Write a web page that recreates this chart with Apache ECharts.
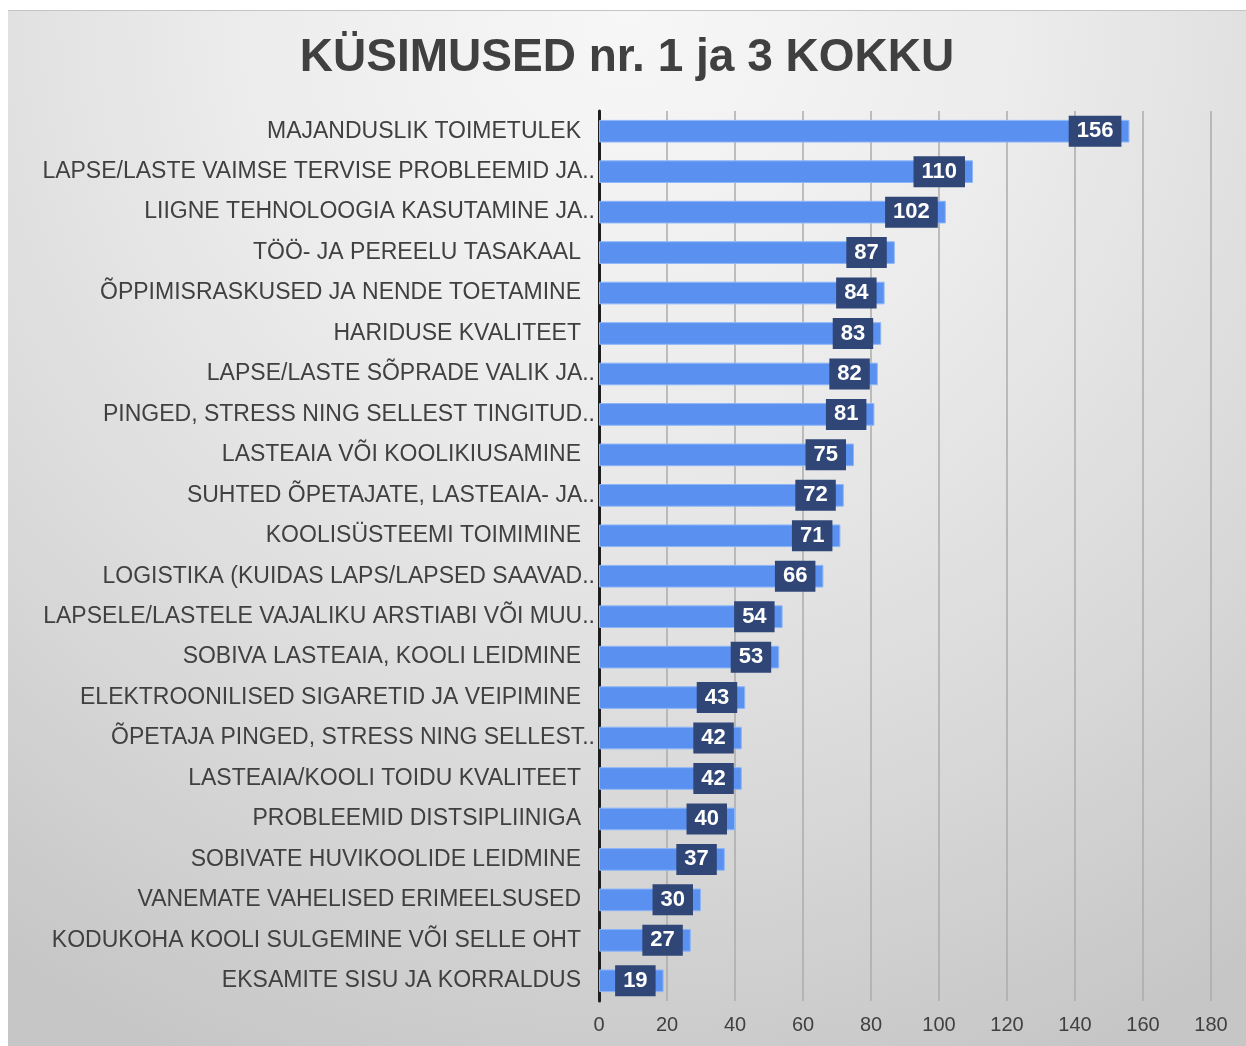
<!DOCTYPE html>
<html>
<head>
<meta charset="utf-8">
<script src="https://cdn.jsdelivr.net/npm/echarts@6/dist/echarts.min.js"></script>
<style>
  html, body { margin: 0; padding: 0; background: #fff; }
  #chart {
    position: absolute; left: 8px; top: 10px; width: 1238px; height: 1036px;
    border-top: 1px solid #c4c4c4;
    background: radial-gradient(ellipse 90% 110% at 50% 0%, #f7f7f7 0%, #ececec 35%, #d9d9d9 70%, #c6c6c6 100%);
  }
</style>
</head>
<body>
<div id="chart"></div>
<script>
 // kategooriad ülevalt alla
 let categories = [
     'MAJANDUSLIK TOIMETULEK',
     'LAPSE/LASTE VAIMSE TERVISE PROBLEEMID JA..',
     'LIIGNE TEHNOLOOGIA KASUTAMINE JA..',
     'TÖÖ- JA PEREELU TASAKAAL',
     'ÕPPIMISRASKUSED JA NENDE TOETAMINE',
     'HARIDUSE KVALITEET',
     'LAPSE/LASTE SÕPRADE VALIK JA..',
     'PINGED, STRESS NING SELLEST TINGITUD..',
     'LASTEAIA VÕI KOOLIKIUSAMINE',
     'SUHTED ÕPETAJATE, LASTEAIA- JA..',
     'KOOLISÜSTEEMI TOIMIMINE',
     'LOGISTIKA (KUIDAS LAPS/LAPSED SAAVAD..',
     'LAPSELE/LASTELE VAJALIKU ARSTIABI VÕI MUU..',
     'SOBIVA LASTEAIA, KOOLI LEIDMINE',
     'ELEKTROONILISED SIGARETID JA VEIPIMINE',
     'ÕPETAJA PINGED, STRESS NING SELLEST..',
     'LASTEAIA/KOOLI TOIDU KVALITEET',
     'PROBLEEMID DISTSIPLIINIGA',
     'SOBIVATE HUVIKOOLIDE LEIDMINE',
     'VANEMATE VAHELISED ERIMEELSUSED',
     'KODUKOHA KOOLI SULGEMINE VÕI SELLE OHT',
     'EKSAMITE SISU JA KORRALDUS'
 ];
 let values = [156, 110, 102, 87, 84, 83, 82, 81, 75, 72, 71, 66, 54, 53, 43, 42, 42, 40, 37, 30, 27, 19];
 let xTicks = [0, 20, 40, 60, 80, 100, 120, 140, 160, 180];

 let chart = echarts.init(document.getElementById('chart'));

 let option = {
     textStyle: { fontFamily: 'Liberation Sans, Arial, sans-serif' },
     title: {
         text: 'KÜSIMUSED nr. 1 ja 3 KOKKU',
         left: 'center',
         top: 19,
         textStyle: { fontSize: 46, fontWeight: 'bold', color: '#404040' }
     },
     grid: { left: 591, right: 35, top: 100, bottom: 46 },
     xAxis: {
         type: 'value',
         min: xTicks[0],
         max: xTicks[xTicks.length - 1],
         interval: 20,
         axisLine: { show: false },
         axisTick: { show: false },
         splitLine: { lineStyle: { color: '#ababab', width: 1.5 } },
         axisLabel: { color: '#404040', fontSize: 20, margin: 14 }
     },
     yAxis: {
         type: 'category',
         inverse: true,
         data: categories,
         axisLine: { lineStyle: { color: '#1e1e1e', width: 3 } },
         axisTick: { show: false },
         axisLabel: {
             color: '#404040',
             fontSize: 23,
             margin: 4,
             formatter: function (v) {
                 // kärbitud sildid ulatuvad teljeni, ülejäänud lõpevad varem
                 return v.endsWith('..') ? v : '{n|' + v + '}';
             },
             rich: { n: { fontSize: 23, color: '#404040', padding: [0, 14, 0, 0] } }
         }
     },
     series: [{
         type: 'bar',
         data: values,
         barWidth: '56%',
         itemStyle: { color: '#5A90F0', borderColor: '#8DB6F8', borderWidth: 1 },
         label: {
             show: true,
             position: 'insideRight',
             distance: 8,
             color: '#fff',
             fontWeight: 'bold',
             fontSize: 22,
             backgroundColor: '#2F4676',
             padding: [5, 8, 4, 8]
         }
     }]
 };

 chart.setOption(option);
</script>
</body>
</html>
